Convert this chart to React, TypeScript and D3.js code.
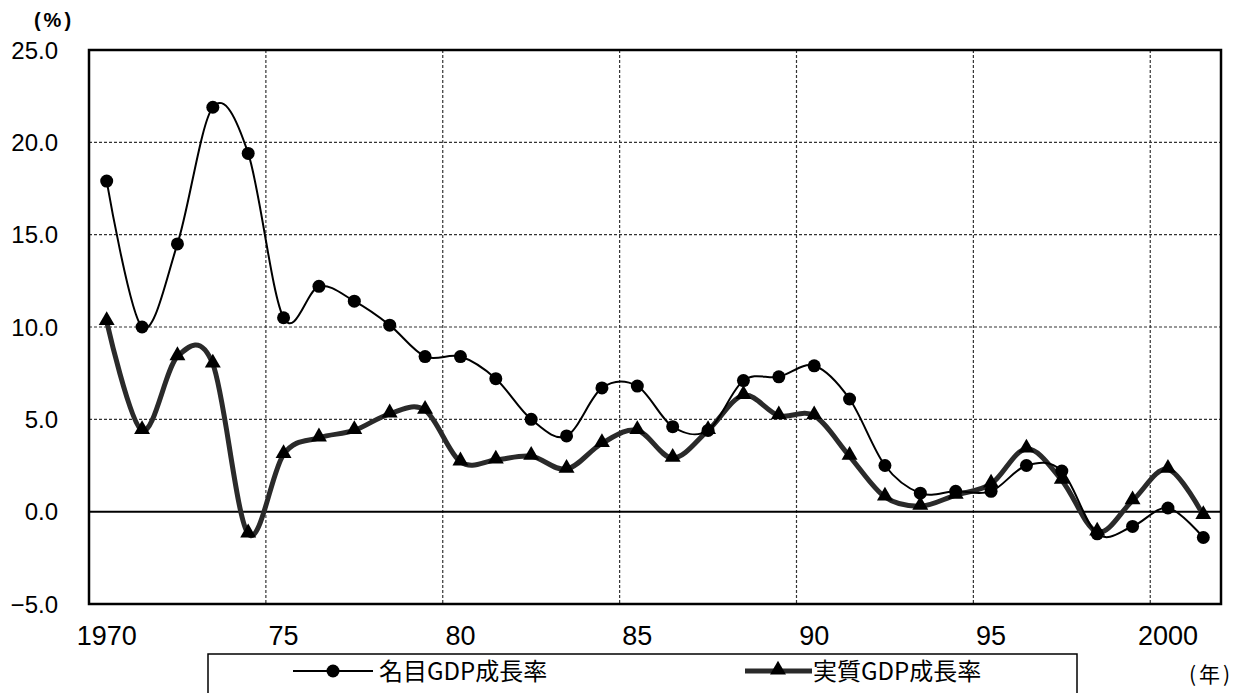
import React from "react";
import * as d3 from "d3";

const years = d3.range(1970, 2002);
const nominal = [17.9, 10.0, 14.5, 21.9, 19.4, 10.5, 12.2, 11.4, 10.1, 8.4, 8.4, 7.2, 5.0, 4.1, 6.7, 6.8, 4.6, 4.4, 7.1, 7.3, 7.9, 6.1, 2.5, 1.0, 1.1, 1.1, 2.5, 2.2, -1.2, -0.8, 0.2, -1.4];
const real = [10.3, 4.4, 8.4, 8.0, -1.2, 3.1, 4.0, 4.4, 5.3, 5.5, 2.7, 2.8, 3.0, 2.3, 3.7, 4.4, 2.9, 4.4, 6.3, 5.2, 5.2, 3.0, 0.8, 0.3, 0.9, 1.5, 3.4, 1.7, -1.1, 0.6, 2.3, -0.2];
const yTicks = [-5, 0, 5, 10, 15, 20, 25];
const xTickYears = [1970, 1975, 1980, 1985, 1990, 1995, 2000];
const xTickLabels = ["1970", "75", "80", "85", "90", "95", "2000"];
const gridYears = [1975, 1980, 1985, 1990, 1995, 2000];
const seriesNames = ["名目GDP成長率", "実質GDP成長率"];

const L = 89, R = 1221, T = 50, B = 604;

export default function App() {
  const x = d3.scaleBand<number>().domain(years).range([L, R]).padding(0);
  const bw = x.bandwidth();
  const cx = (yr: number) => (x(yr) as number) + bw / 2;
  const y = d3.scaleLinear().domain([-5, 25]).range([B, T]);

  const line = d3
    .line<number>()
    .x((_, i) => cx(years[i]))
    .y((d) => y(d))
    .curve(d3.curveCardinal.tension(0));

  const tri = d3.symbol().type(d3.symbolTriangle).size(110)() as string;
  const numFont = "'Liberation Sans', Arial, sans-serif";
  const cjkFont = "'Noto Sans CJK JP', sans-serif";

  return (
    <svg
      width={1239}
      height={693}
      style={{ position: "absolute", left: 0, top: 0, background: "#fff" }}
    >
      {/* horizontal gridlines */}
      {yTicks
        .filter((t) => t !== 0 && t !== -5 && t !== 25)
        .map((t) => (
          <line key={"h" + t} x1={L} x2={R} y1={y(t)} y2={y(t)} stroke="#333" strokeWidth={1.2} strokeDasharray="3,2" />
        ))}
      {/* vertical gridlines */}
      {gridYears.map((g) => (
        <line key={"v" + g} x1={x(g)} x2={x(g)} y1={T} y2={B} stroke="#333" strokeWidth={1.2} strokeDasharray="3,2" />
      ))}
      {/* zero line */}
      <line x1={L} x2={R} y1={y(0)} y2={y(0)} stroke="#000" strokeWidth={2} />
      {/* plot border */}
      <rect x={L} y={T} width={R - L} height={B - T} fill="none" stroke="#000" strokeWidth={2.5} />

      {/* real GDP line */}
      <path d={line(real) as string} fill="none" stroke="#2a2a2a" strokeWidth={5} />
      {real.map((v, i) => (
        <path key={"t" + i} d={tri} transform={`translate(${cx(years[i])},${y(v) - 1})`} fill="#000" />
      ))}

      {/* nominal GDP line */}
      <path d={line(nominal) as string} fill="none" stroke="#000" strokeWidth={2} />
      {nominal.map((v, i) => (
        <circle key={"c" + i} cx={cx(years[i])} cy={y(v)} r={6.5} fill="#000" />
      ))}

      {/* y axis labels */}
      {yTicks.map((t) => (
        <text key={"yl" + t} x={58} y={y(t)} dy="0.36em" textAnchor="end" fontFamily={numFont} fontSize={24} fill="#000">
          {t < 0 ? "\u2212" + Math.abs(t).toFixed(1) : t.toFixed(1)}
        </text>
      ))}
      <text x={54} y={27} textAnchor="middle" fontFamily={numFont} fontSize={20} fontWeight="bold" letterSpacing={3} fill="#000">
        (%)
      </text>

      {/* x axis labels */}
      {xTickYears.map((yr, i) => (
        <text key={"xl" + yr} x={cx(yr)} y={645} textAnchor="middle" fontFamily={numFont} fontSize={27} fill="#000">
          {xTickLabels[i]}
        </text>
      ))}
      <text x={1211} y={682} textAnchor="middle" fontFamily={cjkFont} fontSize={21} letterSpacing={3} fill="#000">
        (年)
      </text>

      {/* legend */}
      <rect x={208} y={654} width={869} height={60} fill="none" stroke="#000" strokeWidth={1.5} />
      <line x1={293} x2={373} y1={671} y2={671} stroke="#000" strokeWidth={2} />
      <circle cx={333} cy={671} r={6.5} fill="#000" />
      <text x={379} y={680} fontFamily={cjkFont} fontSize={24} fill="#000">
        {seriesNames[0]}
      </text>
      <line x1={745} x2={812} y1={671} y2={671} stroke="#2a2a2a" strokeWidth={5} />
      <path d={tri} transform="translate(778,670)" fill="#000" />
      <text x={813} y={680} fontFamily={cjkFont} fontSize={24} fill="#000">
        {seriesNames[1]}
      </text>
    </svg>
  );
}
